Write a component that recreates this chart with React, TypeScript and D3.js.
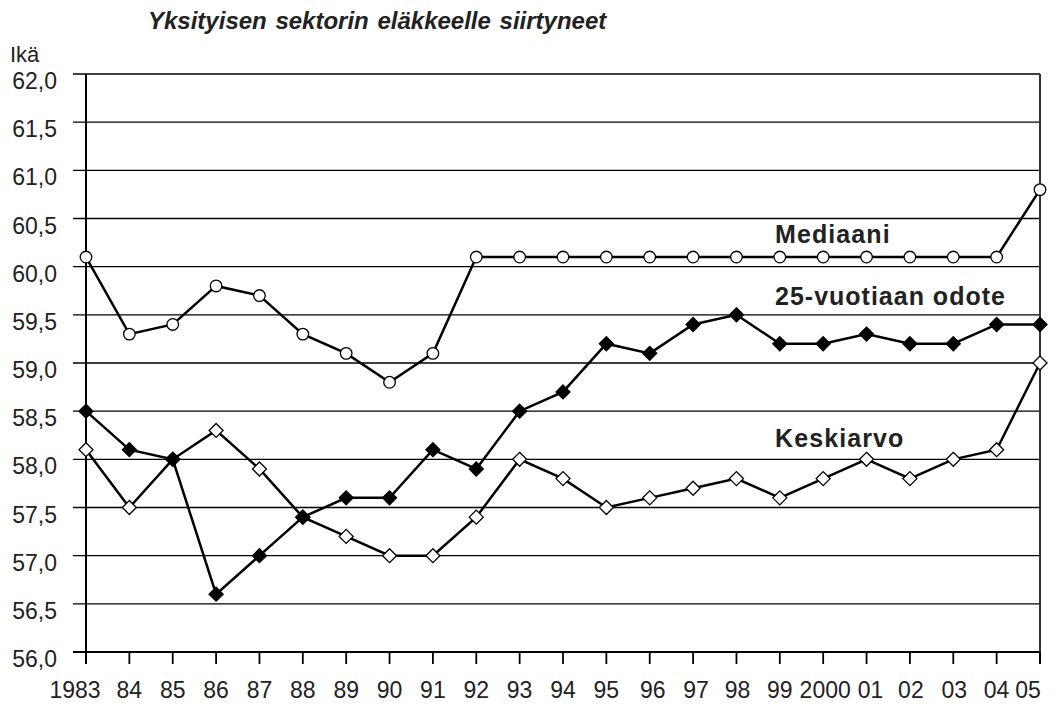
import React from 'react';
import * as d3 from 'd3';

// vuodet x-akselilla
const years = [1983, 1984, 1985, 1986, 1987, 1988, 1989, 1990, 1991, 1992, 1993, 1994, 1995, 1996, 1997, 1998, 1999, 2000, 2001, 2002, 2003, 2004, 2005];
const yearLabels = ['1983', '84', '85', '86', '87', '88', '89', '90', '91', '92', '93', '94', '95', '96', '97', '98', '99', '2000', '01', '02', '03', '04', '05'];
// Excel squeezes some labels off-centre
const labelShift = [-11, 0, 0, 0, 0, 0, 0, 0, 0, 0, 0, 0, 0, 3, 3, 1, 0, 2, 4, 1, 1, 0, -12];

const mediaani = [60.1, 59.3, 59.4, 59.8, 59.7, 59.3, 59.1, 58.8, 59.1, 60.1, 60.1, 60.1, 60.1, 60.1, 60.1, 60.1, 60.1, 60.1, 60.1, 60.1, 60.1, 60.1, 60.8];
const odote25 = [58.5, 58.1, 58.0, 56.6, 57.0, 57.4, 57.6, 57.6, 58.1, 57.9, 58.5, 58.7, 59.2, 59.1, 59.4, 59.5, 59.2, 59.2, 59.3, 59.2, 59.2, 59.4, 59.4];
const keskiarvo = [58.1, 57.5, 58.0, 58.3, 57.9, 57.4, 57.2, 57.0, 57.0, 57.4, 58.0, 57.8, 57.5, 57.6, 57.7, 57.8, 57.6, 57.8, 58.0, 57.8, 58.0, 58.1, 59.0];

const yTicks = [56.0, 56.5, 57.0, 57.5, 58.0, 58.5, 59.0, 59.5, 60.0, 60.5, 61.0, 61.5, 62.0];

const title = 'Yksityisen sektorin eläkkeelle siirtyneet';
const yTitle = 'Ikä';

const W = 1060;
const H = 704;
const left = 86, right = 1040, top = 74, bottom = 652;
const font = '"Liberation Sans", Arial, sans-serif';
const textColor = '#222';

const App = () => {
  const x = d3.scaleLinear().domain([1983, 2005]).range([left, right]);
  const y = d3.scaleLinear().domain([56, 62]).range([bottom, top]);

  const line = d3.line<number>()
    .x((d, i) => x(years[i]))
    .y(d => y(d));

  const fmt = (v: number) => v.toFixed(1).replace('.', ',');

  const diamond = (cx: number, cy: number, r: number) =>
    `M${cx},${cy - r}L${cx + r},${cy}L${cx},${cy + r}L${cx - r},${cy}Z`;

  return (
    <svg width={W} height={H} style={{ position: 'absolute', left: 0, top: 0, background: '#fff' }}>
      <rect width={W} height={H} fill="#fff" />

      {/* title */}
      <text x={148} y={29} fontFamily={font} fontSize={24} fontWeight="bold" fontStyle="italic"
        fill={textColor} wordSpacing={2}>{title}</text>
      <text x={10} y={62} fontFamily={font} fontSize={22} fill={textColor}>{yTitle}</text>

      {/* gridlines */}
      {yTicks.map(t => (
        <g key={t}>
          <line x1={73} x2={right} y1={y(t)} y2={y(t)} stroke="#000" strokeWidth={t === 56 ? 2 : 1.3} />
          <text x={57} y={y(t) + 15} textAnchor="end" fontFamily={font} fontSize={23} fill={textColor}>{fmt(t)}</text>
        </g>
      ))}

      {/* axes */}
      <line x1={left} x2={left} y1={top} y2={bottom + 12} stroke="#000" strokeWidth={2} />
      <line x1={right} x2={right} y1={top} y2={bottom + 12} stroke="#333" strokeWidth={2} />
      {years.map((yr, i) => (
        <g key={yr}>
          <line x1={x(yr)} x2={x(yr)} y1={bottom} y2={bottom + 12} stroke="#000" strokeWidth={1.8} />
          <text x={x(yr) + labelShift[i]} y={698} textAnchor="middle" fontFamily={font} fontSize={23} fill={textColor}>{yearLabels[i]}</text>
        </g>
      ))}

      {/* series */}
      <path d={line(keskiarvo) || ''} fill="none" stroke="#000" strokeWidth={2.5} />
      <path d={line(odote25) || ''} fill="none" stroke="#000" strokeWidth={2.5} />
      <path d={line(mediaani) || ''} fill="none" stroke="#000" strokeWidth={2.5} />

      {keskiarvo.map((v, i) => (
        <path key={'k' + i} d={diamond(x(years[i]), y(v), 7)} fill="#fff" stroke="#000" strokeWidth={1.3} />
      ))}
      {odote25.map((v, i) => (
        <path key={'o' + i} d={diamond(x(years[i]), y(v), 7)} fill="#000" stroke="#000" strokeWidth={1.3} />
      ))}
      {mediaani.map((v, i) => (
        <circle key={'m' + i} cx={x(years[i])} cy={y(v)} r={5.8} fill="#fff" stroke="#000" strokeWidth={1.3} />
      ))}

      {/* series labels */}
      <text x={775} y={243} fontFamily={font} fontSize={25} fontWeight="bold" fill={textColor} letterSpacing={1.1}>Mediaani</text>
      <text x={775} y={305} fontFamily={font} fontSize={25} fontWeight="bold" fill={textColor} letterSpacing={1.0}>25-vuotiaan odote</text>
      <text x={775} y={447} fontFamily={font} fontSize={25} fontWeight="bold" fill={textColor} letterSpacing={1.1}>Keskiarvo</text>
    </svg>
  );
};

export default App;
